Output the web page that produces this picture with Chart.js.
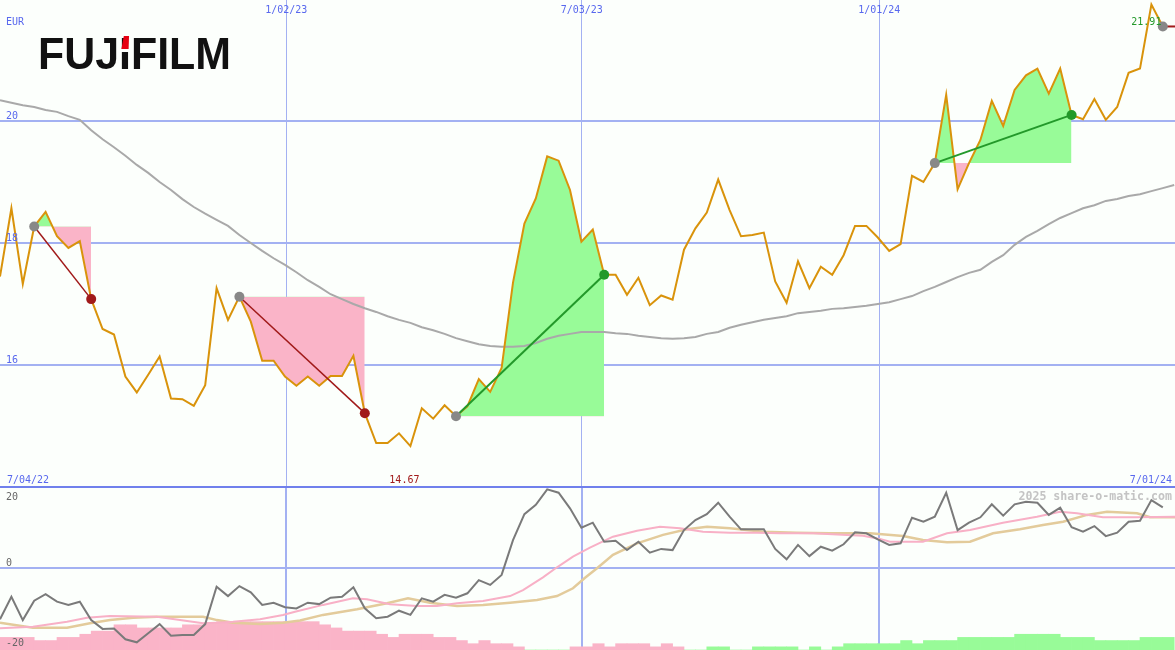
<!DOCTYPE html>
<html>
<head>
<meta charset="utf-8">
<title>FUJIFILM</title>
<script src="https://cdn.jsdelivr.net/npm/chart.js@4.4.1/dist/chart.umd.min.js"></script>
<style>
  html, body { margin: 0; padding: 0; background: #fcfffc; }
  #wrap { position: relative; width: 1175px; height: 650px; overflow: hidden; }
  canvas { position: absolute; left: 0; display: block; }
  #top { top: 0; }
  #bottom { top: 486px; }
</style>
</head>
<body>
<div id="wrap">
  <canvas id="top" width="1175" height="486"></canvas>
  <canvas id="bottom" width="1175" height="164"></canvas>
</div>
<script>
// labels
const logoText = 'FUJIFILM';
const currency = 'EUR';
const startLabel = '7/04/22';
const endLabel = '7/01/24';
const watermark = '2025 share-o-matic.com';

// x positions are week numbers (0 = first weekly close)
const X_MAX = 103.07;
const gridWeeks = [25.11, 51.03, 77.13];
const gridDates = ['1/02/23', '7/03/23', '1/01/24'];
const priceTicks = [16, 18, 20];
const oscTicks = [20, 0, -20];

// weekly close
const price = [17.45, 18.57, 17.33, 18.27, 18.51, 18.11, 17.92, 18.03, 17.08, 16.59,
  16.50, 15.81, 15.55, 15.84, 16.14, 15.45, 15.44, 15.33, 15.67, 17.26,
  16.74, 17.12, 16.71, 16.07, 16.07, 15.81, 15.66, 15.81, 15.66, 15.82,
  15.82, 16.15, 15.21, 14.72, 14.72, 14.88, 14.67, 15.29, 15.12, 15.34,
  15.16, 15.32, 15.77, 15.56, 15.95, 17.35, 18.32, 18.73, 19.42, 19.35,
  18.87, 18.02, 18.22, 17.48, 17.48, 17.15, 17.43, 16.98, 17.14, 17.07,
  17.89, 18.24, 18.50, 19.04, 18.54, 18.11, 18.13, 18.17, 17.37, 17.02,
  17.70, 17.26, 17.61, 17.48, 17.80, 18.28, 18.28, 18.09, 17.87, 17.98,
  19.10, 19.00, 19.31, 20.43, 18.88, 19.31, 19.69, 20.33, 19.92, 20.51,
  20.75, 20.86, 20.45, 20.86, 20.10, 20.03, 20.36, 20.02, 20.23, 20.79,
  20.86, 21.91, 21.55];

// long moving average (grey)
const priceMA = [20.34, 20.30, 20.26, 20.23, 20.18, 20.15, 20.08, 20.02, 19.85, 19.70,
  19.57, 19.43, 19.28, 19.15, 19.00, 18.87, 18.72, 18.59, 18.48, 18.38,
  18.28, 18.13, 18.00, 17.87, 17.75, 17.64, 17.52, 17.39, 17.28, 17.16,
  17.08, 17.00, 16.93, 16.87, 16.80, 16.74, 16.69, 16.62, 16.57, 16.51,
  16.44, 16.39, 16.34, 16.31, 16.30, 16.30, 16.31, 16.36, 16.43, 16.48,
  16.51, 16.54, 16.54, 16.54, 16.52, 16.51, 16.48, 16.46, 16.44, 16.43,
  16.44, 16.46, 16.51, 16.54, 16.61, 16.66, 16.70, 16.74, 16.77, 16.80,
  16.85, 16.87, 16.89, 16.92, 16.93, 16.95, 16.97, 17.00, 17.03, 17.08,
  17.13, 17.21, 17.28, 17.36, 17.44, 17.51, 17.56, 17.69, 17.80, 17.97,
  18.10, 18.20, 18.31, 18.41, 18.49, 18.57, 18.62, 18.69, 18.72, 18.77,
  18.80, 18.85, 18.90, 18.95];

// trades (week index of entry / exit)
const tradeStarts = [3, 21, 40, 82];
const tradeEnds = [8, 32, 53, 94];
const openTradeStart = 102;

// lower panel: oscillator (grey), its averages (pink, tan) and histogram levels
const momentum = [-12.9, -7.25, -13.1, -8.25, -6.6, -8.5, -9.3, -8.5, -13.1, -15.3,
  -15.2, -17.9, -18.65, -16.4, -14.1, -17.0, -16.8, -16.8, -14.1, -4.75,
  -7.1, -4.6, -6.15, -9.3, -8.75, -9.9, -10.2, -8.75, -9.1, -7.5,
  -7.25, -4.9, -10.15, -12.65, -12.25, -10.75, -11.8, -7.65, -8.5, -6.8,
  -7.5, -6.4, -3.1, -4.3, -1.8, 6.9, 13.4, 15.7, 19.6, 18.75,
  14.85, 10.0, 11.25, 6.5, 6.75, 4.4, 6.5, 3.75, 4.7, 4.4,
  9.4, 11.9, 13.4, 16.25, 12.75, 9.6, 9.6, 9.6, 4.7, 2.1,
  5.7, 2.9, 5.25, 4.25, 5.85, 8.85, 8.6, 7.1, 5.7, 6.1,
  12.5, 11.5, 12.75, 18.75, 9.4, 11.25, 12.6, 15.85, 13.0, 15.85,
  16.5, 16.25, 13.2, 15.0, 10.1, 9.0, 10.4, 7.9, 8.75, 11.5,
  11.75, 16.9, 15.1];

const pinkWeeks = [0, 2.89, 5.88, 7.63, 9.65, 13.77, 15.79, 17.81, 19.04, 20.44,
  22.81, 24.82, 25.88, 28.33, 30.96, 32.19, 34.21, 36.58, 38.33, 40.09,
  42.37, 44.74, 45.88, 47.63, 48.86, 50.26, 51.75, 53.77, 55.88, 57.89,
  59.65, 61.67, 64.04, 66.40, 68.42, 71.32, 74.30, 75.70, 77.19, 78.07,
  80.96, 83.07, 85.09, 87.98, 90.96, 92.98, 94.47, 96.75, 99.74, 103.07];
const pinkVals = [-15.15, -14.75, -13.5, -12.5, -12.1, -12.25, -13.1, -13.9, -13.75, -13.5,
  -12.9, -11.8, -11.0, -9.3, -7.65, -7.9, -9.15, -9.6, -9.6, -8.9,
  -8.3, -7.1, -5.6, -2.4, 0.1, 2.75, 5.0, 7.75, 9.25, 10.25,
  9.85, 9.0, 8.75, 8.75, 8.6, 8.6, 8.2, 8.0, 7.2, 6.5,
  6.5, 8.6, 9.4, 11.25, 12.75, 14.0, 13.6, 12.6, 12.6, 12.75];

const tanWeeks = [0, 2.89, 5.88, 7.89, 9.65, 11.67, 13.77, 17.81, 19.04, 20.44,
  22.81, 24.82, 26.32, 28.33, 31.32, 33.95, 35.79, 37.72, 40.09, 42.37,
  44.74, 47.11, 48.86, 50.26, 51.32, 52.37, 53.77, 55.88, 58.16, 60.26,
  62.02, 64.04, 66.93, 69.91, 72.81, 76.32, 79.21, 80.96, 83.07, 85.09,
  87.11, 89.47, 91.49, 93.25, 95.35, 97.11, 99.74, 100.88, 103.07];
const tanVals = [-13.75, -15.0, -15.0, -13.9, -13.1, -12.5, -12.25, -12.25, -13.1, -13.75,
  -14.1, -13.75, -13.2, -11.8, -10.4, -8.9, -7.65, -8.75, -9.6, -9.3,
  -8.75, -8.1, -7.1, -5.15, -2.5, -0.15, 3.2, 6.1, 8.2, 9.6,
  10.25, 9.85, 9.0, 8.75, 8.6, 8.6, 7.9, 6.9, 6.35, 6.5,
  8.6, 9.6, 10.7, 11.5, 13.2, 14.0, 13.6, 12.6, 12.6];

const histLevels = [-4, -4, -4, -3, -3, -4, -4, -5, -6, -6,
  -8, -8, -7, -7, -7, -7, -8, -8, -8.7, -9,
  -9, -9, -9, -9, -9, -9, -9, -9, -8, -7,
  -6, -6, -6, -5, -4, -5, -5, -5, -4, -4,
  -3, -2, -3, -2, -2, -1, 0, 0, 0, 0,
  -1, -1, -2, -1, -2, -2, -2, -1, -2, -1,
  0, 0, 1, 1, 0, 0, 1, 1, 1, 1,
  0, 1, 0, 1, 2, 2, 2, 2, 2, 3,
  2, 3, 3, 3, 4, 4, 4, 4, 4, 5,
  5, 5, 5, 4, 4, 4, 3, 3, 3, 3,
  4, 4, 4];

// colours
const BG = '#fcfffc';
const GRID = '#a3b1f2';
const AXIS_TEXT = '#5868ee';
const PINK = '#fab4c8';
const GREEN = '#98fb98';
const LOSS = '#a11a1a';
const WIN = '#23992a';
const FONT = '10px "DejaVu Sans Mono", monospace';

const pts = (xs, ys) => ys.map((v, i) => ({ x: xs ? xs[i] : i, y: v }));

const background = {
  id: 'background',
  beforeDraw(chart) {
    const ctx = chart.ctx;
    ctx.save();
    ctx.fillStyle = BG;
    ctx.fillRect(0, 0, chart.width, chart.height);
    ctx.restore();
  }
};

function drawLogo(ctx) {
  ctx.save();
  ctx.font = 'bold 45px "Liberation Sans", Arial, sans-serif';
  const sx = 193 / ctx.measureText(logoText).width;
  ctx.translate(38, 69);
  ctx.scale(sx, 1);
  ctx.fillStyle = '#111111';
  ctx.fillText(logoText, 0, 0);
  // red top of the first I
  const a = ctx.measureText('FUJ').width;
  const w = ctx.measureText('FUJI').width - a;
  const l = a + w * 0.2, r = a + w * 0.8;
  ctx.fillStyle = BG;
  ctx.fillRect(l - 1, -20, r - l + 2, 3);
  ctx.fillStyle = '#e60012';
  ctx.beginPath();
  ctx.moveTo(l, -20);
  ctx.lineTo(l + 2.5, -33);
  ctx.lineTo(r + 0.5, -33);
  ctx.lineTo(r, -20);
  ctx.closePath();
  ctx.fill();
  ctx.restore();
}

const topText = {
  id: 'topText',
  afterDraw(chart) {
    const { ctx, scales: { x, y } } = chart;
    drawLogo(ctx);
    ctx.save();
    ctx.font = FONT;
    ctx.fillStyle = AXIS_TEXT;
    ctx.textAlign = 'left';
    ctx.fillText(currency, 6, 25);
    priceTicks.forEach(v => ctx.fillText(String(v), 6, y.getPixelForValue(v) - 2));
    ctx.textAlign = 'center';
    gridWeeks.forEach((w, i) => ctx.fillText(gridDates[i], x.getPixelForValue(w), 13));
    ctx.textAlign = 'left';
    ctx.fillText(startLabel, 7, 483);
    ctx.textAlign = 'right';
    ctx.fillText(endLabel, 1172, 483);
    // high / low
    const hi = Math.max(...price), lo = Math.min(...price);
    ctx.fillStyle = WIN;
    ctx.fillText(hi.toFixed(2), x.getPixelForValue(price.indexOf(hi)) + 10, 25);
    ctx.fillStyle = LOSS;
    ctx.textAlign = 'center';
    ctx.fillText(lo.toFixed(2), x.getPixelForValue(price.indexOf(lo)) - 6, 483);
    ctx.restore();
  }
};

const bottomText = {
  id: 'bottomText',
  afterDraw(chart) {
    const { ctx, scales: { y } } = chart;
    ctx.save();
    ctx.fillStyle = '#7080ec';
    ctx.fillRect(0, 0, chart.width, 2);
    ctx.font = FONT;
    ctx.fillStyle = '#666666';
    ctx.textAlign = 'left';
    oscTicks.forEach(v => ctx.fillText(String(v), 6, Math.max(y.getPixelForValue(v) - 2, 14)));
    ctx.font = 'bold 11.6px "DejaVu Sans Mono", monospace';
    ctx.fillStyle = '#c4c4c4';
    ctx.textAlign = 'right';
    ctx.fillText(watermark, 1172, 14);
    ctx.restore();
  }
};

const xScale = (lw) => ({
  type: 'linear', min: 0, max: X_MAX, offset: false,
  afterBuildTicks: s => { s.ticks = gridWeeks.map(v => ({ value: v })); },
  ticks: { display: false },
  grid: { color: GRID, lineWidth: lw, drawTicks: false, offset: false },
  border: { display: false }
});

const baseOptions = {
  responsive: false,
  animation: false,
  devicePixelRatio: 1,
  events: [],
  layout: { padding: 0, autoPadding: false },
  elements: { point: { radius: 0 }, line: { tension: 0 } },
  plugins: { legend: { display: false }, tooltip: { enabled: false } }
};

// upper panel
const topSets = [];
tradeStarts.forEach((s, k) => {
  const e = tradeEnds[k];
  topSets.push({
    data: price.slice(s, e + 1).map((v, j) => ({ x: s + j, y: v })),
    borderWidth: 0, pointRadius: 0,
    fill: { target: { value: price[s] }, above: GREEN, below: PINK },
    order: 10
  });
});
topSets.push({ data: pts(null, priceMA), borderColor: '#a9a9a9', borderWidth: 2, order: 8 });
topSets.push({ data: pts(null, price), borderColor: '#d9930b', borderWidth: 2, order: 5 });
tradeStarts.forEach((s, k) => {
  const e = tradeEnds[k];
  const win = price[e] >= price[s];
  topSets.push({
    data: [{ x: s, y: price[s] }, { x: e, y: price[e] }],
    borderColor: win ? WIN : LOSS, borderWidth: win ? 2 : 1.5, order: 3
  });
});
topSets.push({
  data: [{ x: openTradeStart, y: price[openTradeStart] }, { x: X_MAX, y: price[openTradeStart] }],
  borderColor: LOSS, borderWidth: 2, order: 3
});
const starts = tradeStarts.concat([openTradeStart]);
topSets.push({
  data: starts.map(s => ({ x: s, y: price[s] })),
  showLine: false, pointRadius: 5, pointBorderWidth: 0,
  pointBackgroundColor: '#888888', order: 1
});
topSets.push({
  data: tradeEnds.map(e => ({ x: e, y: price[e] })),
  showLine: false, pointRadius: 5, pointBorderWidth: 0,
  pointBackgroundColor: tradeEnds.map((e, k) => price[e] >= price[tradeStarts[k]] ? WIN : LOSS),
  order: 1
});

new Chart(document.getElementById('top'), {
  type: 'line',
  data: { datasets: topSets },
  options: Object.assign({}, baseOptions, {
    scales: {
      x: xScale(1),
      y: {
        type: 'linear', min: 14.016, max: 21.984,
        afterBuildTicks: s => { s.ticks = priceTicks.map(v => ({ value: v })); },
        ticks: { display: false },
        grid: { color: GRID, lineWidth: 2, drawTicks: false },
        border: { display: false }
      }
    }
  }),
  plugins: [background, topText]
});

// lower panel
new Chart(document.getElementById('bottom'), {
  type: 'line',
  data: {
    datasets: [
      {
        type: 'bar', yAxisID: 'yb',
        data: histLevels.map((v, i) => ({ x: i + 0.5, y: Math.abs(v) })),
        backgroundColor: histLevels.map(v => v < 0 ? PINK : GREEN),
        barPercentage: 1, categoryPercentage: 1, borderWidth: 0, order: 10
      },
      { data: pts(tanWeeks, tanVals), borderColor: '#e3cb9b', borderWidth: 2.5, order: 6 },
      { data: pts(pinkWeeks, pinkVals), borderColor: '#f8b0c6', borderWidth: 2, order: 5 },
      { data: pts(null, momentum), borderColor: '#7a7a7a', borderWidth: 2, order: 4 }
    ]
  },
  options: Object.assign({}, baseOptions, {
    scales: {
      x: xScale(2),
      y: {
        type: 'linear', min: -20.575, max: 20.425,
        afterBuildTicks: s => { s.ticks = [{ value: 0 }]; },
        ticks: { display: false },
        grid: { color: GRID, lineWidth: 2, drawTicks: false },
        border: { display: false }
      },
      yb: { type: 'linear', min: 0, max: 52.06, display: false }
    }
  }),
  plugins: [background, bottomText]
});
</script>
</body>
</html>
